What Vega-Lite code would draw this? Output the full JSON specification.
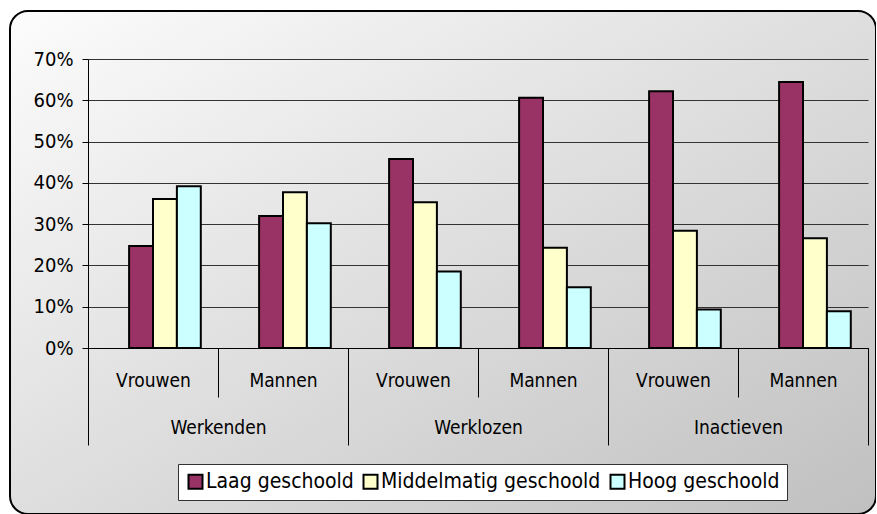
{
  "$schema": "https://vega.github.io/schema/vega-lite/v6.json",
  "width": 866,
  "height": 503,
  "autosize": {"type": "none"},
  "padding": {"left": 10, "top": 11, "right": 0, "bottom": 0},
  "background": "white",
  "view": {
    "fill": {"gradient": "linear", "x1": 0, "y1": 0, "x2": 1, "y2": 1, "stops": [{"offset": 0, "color": "#fcfcfc"}, {"offset": 1, "color": "#c0c0c0"}]},
    "stroke": "black",
    "strokeWidth": 2,
    "cornerRadius": 18
  },
  "config": {
    "font": "Liberation Sans Narrow, DejaVu Sans Condensed, Liberation Sans, sans-serif",
    "axis": {"labelColor": "black", "labelFont": "Liberation Sans Narrow, DejaVu Sans Condensed, Liberation Sans, sans-serif"},
    "legend": {"labelFont": "Liberation Sans Narrow, DejaVu Sans Condensed, Liberation Sans, sans-serif"}
  },
  "data": {
    "values": [
      {"groep": "Werkenden", "cat": "Werkenden|Vrouwen", "opleiding": "Laag geschoold", "aandeel": 0.247},
      {"groep": "Werkenden", "cat": "Werkenden|Vrouwen", "opleiding": "Middelmatig geschoold", "aandeel": 0.361},
      {"groep": "Werkenden", "cat": "Werkenden|Vrouwen", "opleiding": "Hoog geschoold", "aandeel": 0.392},
      {"groep": "Werkenden", "cat": "Werkenden|Mannen", "opleiding": "Laag geschoold", "aandeel": 0.320},
      {"groep": "Werkenden", "cat": "Werkenden|Mannen", "opleiding": "Middelmatig geschoold", "aandeel": 0.377},
      {"groep": "Werkenden", "cat": "Werkenden|Mannen", "opleiding": "Hoog geschoold", "aandeel": 0.302},
      {"groep": "Werklozen", "cat": "Werklozen|Vrouwen", "opleiding": "Laag geschoold", "aandeel": 0.458},
      {"groep": "Werklozen", "cat": "Werklozen|Vrouwen", "opleiding": "Middelmatig geschoold", "aandeel": 0.353},
      {"groep": "Werklozen", "cat": "Werklozen|Vrouwen", "opleiding": "Hoog geschoold", "aandeel": 0.185},
      {"groep": "Werklozen", "cat": "Werklozen|Mannen", "opleiding": "Laag geschoold", "aandeel": 0.606},
      {"groep": "Werklozen", "cat": "Werklozen|Mannen", "opleiding": "Middelmatig geschoold", "aandeel": 0.243},
      {"groep": "Werklozen", "cat": "Werklozen|Mannen", "opleiding": "Hoog geschoold", "aandeel": 0.147},
      {"groep": "Inactieven", "cat": "Inactieven|Vrouwen", "opleiding": "Laag geschoold", "aandeel": 0.622},
      {"groep": "Inactieven", "cat": "Inactieven|Vrouwen", "opleiding": "Middelmatig geschoold", "aandeel": 0.284},
      {"groep": "Inactieven", "cat": "Inactieven|Vrouwen", "opleiding": "Hoog geschoold", "aandeel": 0.093},
      {"groep": "Inactieven", "cat": "Inactieven|Mannen", "opleiding": "Laag geschoold", "aandeel": 0.644},
      {"groep": "Inactieven", "cat": "Inactieven|Mannen", "opleiding": "Middelmatig geschoold", "aandeel": 0.266},
      {"groep": "Inactieven", "cat": "Inactieven|Mannen", "opleiding": "Hoog geschoold", "aandeel": 0.089}
    ]
  },
  "layer": [
    {
      "mark": {"type": "bar", "stroke": "black", "strokeWidth": 2, "opacity": 1},
      "encoding": {
        "x": {
          "field": "cat",
          "type": "nominal",
          "scale": {
            "domain": ["Werkenden|Vrouwen", "Werkenden|Mannen", "Werklozen|Vrouwen", "Werklozen|Mannen", "Inactieven|Vrouwen", "Inactieven|Mannen"],
            "range": [78, 858],
            "paddingInner": 0,
            "paddingOuter": 0
          },
          "axis": {
            "title": null,
            "orient": "bottom",
            "offset": -166,
            "tickBand": "extent",
            "tickSize": 49,
            "tickColor": "black",
            "tickWidth": 1,
            "domainColor": "black",
            "domainWidth": 1,
            "labelExpr": "split(datum.label, '|')[1]",
            "labelAngle": 0,
            "labelPadding": -26,
            "labelFontSize": 19,
            "grid": false
          }
        },
        "xOffset": {
          "field": "opleiding",
          "type": "nominal",
          "scale": {
            "domain": ["_", "Laag geschoold", "Middelmatig geschoold", "Hoog geschoold"],
            "paddingInner": 0,
            "paddingOuter": 0.72
          }
        },
        "y": {
          "field": "aandeel",
          "type": "quantitative",
          "scale": {"domain": [0, 0.7], "range": [337, 48], "nice": false, "zero": true},
          "axis": {
            "title": null,
            "orient": "left",
            "offset": -78,
            "values": [0, 0.1, 0.2, 0.3, 0.4, 0.5, 0.6, 0.7],
            "format": ".0%",
            "grid": true,
            "gridColor": "#333333",
            "gridWidth": 1,
            "gridOpacity": 1,
            "domainColor": "black",
            "domainWidth": 1,
            "tickColor": "black",
            "tickSize": 6,
            "labelPadding": 9,
            "labelFontSize": 20
          }
        },
        "color": {
          "field": "opleiding",
          "type": "nominal",
          "scale": {
            "domain": ["Laag geschoold", "Middelmatig geschoold", "Hoog geschoold"],
            "range": ["#993366", "#FFFFCC", "#CCFFFF"]
          },
          "legend": {
            "title": null,
            "orient": "none",
            "legendX": 168,
            "legendY": 453,
            "direction": "horizontal",
            "columns": 3,
            "fillColor": "white",
            "strokeColor": "#333333",
            "padding": 7,
            "symbolType": "square",
            "symbolSize": 196,
            "symbolStrokeColor": "black",
            "symbolStrokeWidth": 2,
            "symbolOpacity": 1,
            "labelFontSize": 21,
            "labelColor": "black",
            "labelOffset": 0,
            "columnPadding": 5,
            "labelLimit": 400
          }
        }
      }
    },
    {
      "mark": {"type": "point", "opacity": 0},
      "encoding": {
        "x": {
          "field": "groep",
          "type": "nominal",
          "scale": {
            "domain": ["Werkenden", "Werklozen", "Inactieven"],
            "range": [78, 858],
            "paddingInner": 0,
            "paddingOuter": 0
          },
          "axis": {
            "title": null,
            "orient": "bottom",
            "offset": -166,
            "tickBand": "extent",
            "tickSize": 97,
            "tickColor": "black",
            "tickWidth": 1,
            "domain": false,
            "labelAngle": 0,
            "labelPadding": -27,
            "labelFontSize": 19,
            "grid": false
          }
        }
      }
    }
  ],
  "resolve": {
    "scale": {"x": "independent"},
    "axis": {"x": "independent", "y": "independent"}
  }
}
